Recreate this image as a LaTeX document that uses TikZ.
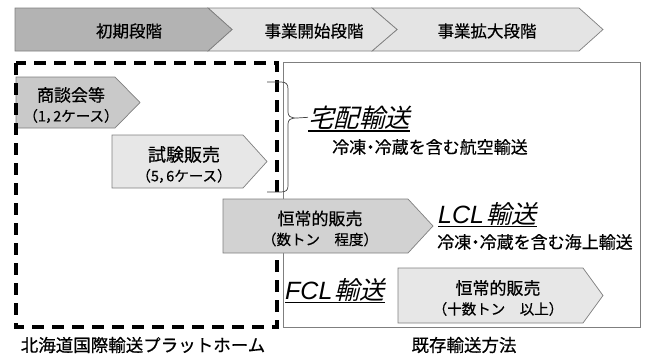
\documentclass[tikz,border=0pt]{standalone}
\usepackage{fontspec}
\newfontfamily\jp[FakeBold=0.5]{Noto Sans CJK JP}
\newfontfamily\jpp[FakeBold=0.5,RawFeature=+palt]{Noto Sans CJK JP}
\newfontfamily\jpsl[FakeSlant=0.25]{Noto Sans CJK JP}
\newfontfamily\lat{Liberation Sans}
\newcommand{\nc}{{\jpp ，}}
\newcommand{\nd}{{\jpp ・}}
\definecolor{bardark}{HTML}{B3B3B3}
\definecolor{barlight}{HTML}{E4E4E4}
\definecolor{chevmid}{HTML}{C9C9C9}
\definecolor{chevmidb}{HTML}{D2D2D2}
\definecolor{chevlight}{HTML}{E7E7E7}
\definecolor{edgegray}{HTML}{7F7F7F}
\begin{document}
\begin{tikzpicture}[x=1pt,y=-1pt,
  segbox/.style={draw=edgegray, line width=0.7pt, line join=miter},
  chevbox/.style={draw=edgegray, line width=0.7pt, line join=miter},
  dashbox/.style={draw=black, line width=3.2pt, dash pattern=on 12pt off 8pt},
  solidbox/.style={draw=edgegray, line width=0.9pt},
  bracepath/.style={draw=black!75, line width=0.7pt},
  bartext/.style={font=\jp\fontsize{16.5}{18}\selectfont, inner sep=0pt},
  chevtext/.style={align=center, inner sep=0pt, font=\jp\fontsize{17}{20}\selectfont},
  modetext/.style={inner sep=0pt, anchor=base west},
  uline/.style={draw=black, line width=1.6pt},
  subtext/.style={font=\jp\fontsize{17}{19}\selectfont, inner sep=0pt, anchor=west},
  captext/.style={font=\jp\fontsize{17.5}{20}\selectfont, inner sep=0pt}
]
\useasboundingbox (0,0) rectangle (646,360);

% top stage bar
\draw[segbox, fill=barlight] (372,8) -- (579,8) -- (603,29.5) -- (579,51) -- (372,51) -- (397,29.5) -- cycle;
\draw[segbox, fill=barlight] (208,8) -- (372,8) -- (397,29.5) -- (372,51) -- (208,51) -- (232,29.5) -- cycle;
\draw[segbox, fill=bardark] (15,8) -- (208,8) -- (232,29.5) -- (208,51) -- (15,51) -- cycle;
\node[bartext] (s1) at (129,31) {初期段階};
\node[bartext] (s2) at (314,31) {事業開始段階};
\node[bartext] (s3) at (487,31) {事業拡大段階};

% existing methods box
\draw[solidbox] (283,62) rectangle (640,327);

% chevrons inside platform
\draw[chevbox, fill=chevmid] (16,77) -- (115,77) -- (140,102.5) -- (115,128) -- (16,128) -- cycle;
\draw[chevbox, fill=chevlight] (112,135) -- (243,135) -- (267,161.5) -- (243,188) -- (112,188) -- cycle;

% platform dashed box
\draw[dashbox] (16,63) rectangle (277,327);

% brace
\coordinate (btip) at (297,118);
\draw[bracepath] (267,82) -- (281,82) .. controls (286,82) and (288,84) .. (288,89) -- (288,112)
  .. controls (288,116) and (290,118) .. (btip)
  .. controls (290,118) and (288,120) .. (288,124) -- (288,186)
  .. controls (288,190) and (286,192) .. (281,192) -- (267,192);

% chevrons on the right
\draw[chevbox, fill=chevmidb] (223,199) -- (408,199) -- (433,226) -- (408,253) -- (223,253) -- cycle;
\draw[chevbox, fill=chevlight] (398,268) -- (583,268) -- (603,295.5) -- (583,323) -- (398,323) -- cycle;

% chevron texts
\node[chevtext] (c1) at (71,105) {商談会等\\{\fontsize{14.5}{20}\selectfont （1\nc 2ケース）}};
\node[chevtext] (c2) at (184,164.5) {{\fontsize{18}{20}\selectfont 試験販売}\\{\fontsize{14.5}{20}\selectfont （5\nc 6ケース）}};
\node[chevtext] (c3) at (320,228.5) {恒常的販売\\{\fontsize{14.5}{20}\selectfont （数トン　程度）}};
\node[chevtext] (c4) at (498,298) {恒常的販売\\{\fontsize{14.5}{20}\selectfont （十数トン　以上）}};

% transport modes
\node[modetext, font=\jpsl\fontsize{25.5}{27}\selectfont] (takuhai) at (308,127) {宅配輸送};
\draw[uline] ([yshift=-4pt]takuhai.base west) -- ([yshift=-4pt]takuhai.base east);
\draw[bracepath] (btip) -- (takuhai.west);
\node[subtext] (t1) at (332,147) {冷凍\nd 冷蔵を含む航空輸送};

\node[modetext, font=\fontsize{25}{27}\selectfont] (lcl) at (438,223) {{\lat\itshape LCL}\hspace{2.5pt}{\jpsl 輸送}};
\draw[uline] ([yshift=-3.5pt]lcl.base west) -- ([yshift=-3.5pt]lcl.base east);
\node[subtext] (t2) at (437,242) {冷凍\nd 冷蔵を含む海上輸送};

\node[modetext, font=\fontsize{25}{27}\selectfont] (fcl) at (285,299) {{\lat\itshape FCL}\hspace{2.5pt}{\jpsl 輸送}};
\draw[uline] ([yshift=-3.5pt]fcl.base west) -- ([yshift=-3.5pt]fcl.base east);

% captions
\node[captext] (cap1) at (143,345) {北海道国際輸送プラットホーム};
\node[captext] (cap2) at (464,345) {既存輸送方法};
\end{tikzpicture}
\end{document}
